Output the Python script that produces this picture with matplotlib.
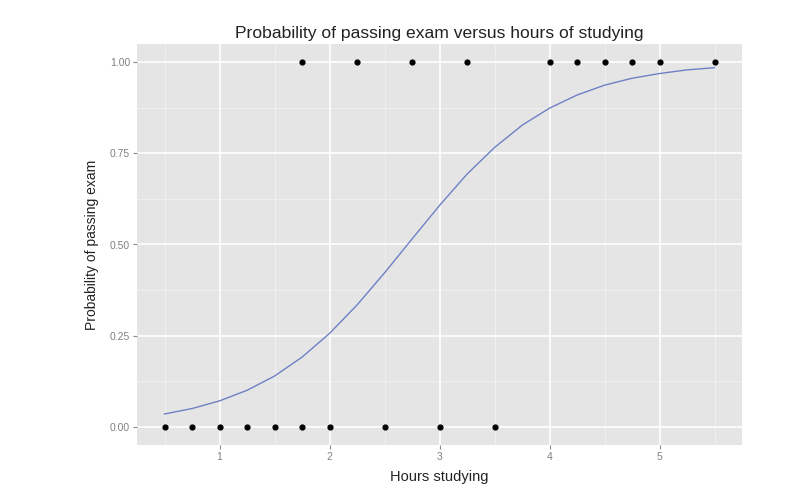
import matplotlib
matplotlib.use("Agg")
from matplotlib import pyplot as plt

# study hours vs pass/fail
hours = [0.5, 0.75, 1.0, 1.25, 1.5, 1.75, 1.75, 2.0, 2.25, 2.5,
         2.75, 3.0, 3.25, 3.5, 4.0, 4.25, 4.5, 4.75, 5.0, 5.5]
passed = [0, 0, 0, 0, 0, 0, 1, 0, 1, 0,
          1, 0, 1, 0, 1, 1, 1, 1, 1, 1]

# fitted curve
curve_x = [0.5, 0.75, 1.0, 1.25, 1.5, 1.75, 2.0, 2.25, 2.5, 2.75, 3.0,
           3.25, 3.5, 3.75, 4.0, 4.25, 4.5, 4.75, 5.0, 5.25, 5.5]
curve_y = [0.035, 0.050, 0.071, 0.100, 0.139, 0.191, 0.256, 0.334, 0.422,
           0.515, 0.607, 0.693, 0.766, 0.827, 0.874, 0.910, 0.937, 0.956,
           0.969, 0.979, 0.985]

x_ticks = [1, 2, 3, 4, 5]
y_ticks = [0.0, 0.25, 0.5, 0.75, 1.0]
y_labels = ["0.00", "0.25", "0.50", "0.75", "1.00"]

plt.rcParams['font.family'] = ['Liberation Sans', 'DejaVu Sans']

fig = plt.figure(figsize=(8.11, 4.94), dpi=100)
ax = fig.add_axes([137 / 811, 49 / 494, 605 / 811, 401 / 494])
ax.set_facecolor('#e5e5e5')

ax.set_xlim(0.25, 5.75)
ax.set_ylim(-0.05, 1.05)

# minor grid
for xm in [0.5, 1.5, 2.5, 3.5, 4.5, 5.5]:
    ax.axvline(xm, color='#f2f2f2', lw=0.6, zorder=0)
for ym in [0.125, 0.375, 0.625, 0.875]:
    ax.axhline(ym, color='#f2f2f2', lw=0.6, zorder=0)
# major grid
for xg in x_ticks:
    ax.axvline(xg, color='white', lw=1.2, zorder=0)
for yg in y_ticks:
    ax.axhline(yg, color='white', lw=1.2, zorder=0)

ax.plot(curve_x, curve_y, color='#6f80c4', lw=1.0, zorder=2)
ax.scatter(hours, passed, s=12, color='black', zorder=3)

ax.set_xticks(x_ticks)
ax.set_yticks(y_ticks)
ax.set_yticklabels(y_labels)
ax.tick_params(length=3, width=0.8, color='#8a8a8a', labelcolor='#808080',
               labelsize=7.5, pad=2)
for s in ax.spines.values():
    s.set_visible(False)

ax.set_xlabel("Hours studying", fontsize=10.5, color='#222222', labelpad=6)
ax.set_ylabel("Probability of passing exam", fontsize=10, color='#222222', labelpad=8)
ax.set_title("Probability of passing exam versus hours of studying",
             fontsize=12.6, color='#222222', pad=4)

fig.savefig("out.png", dpi=100)
